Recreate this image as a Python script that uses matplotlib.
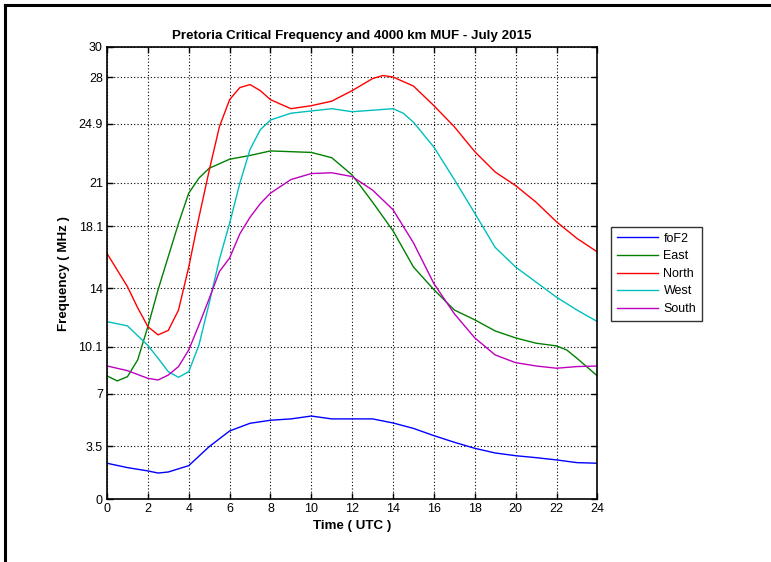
import matplotlib
matplotlib.use('Agg')
import matplotlib.pyplot as plt
from matplotlib.lines import Line2D

plt.rcParams['font.family'] = ['Liberation Sans', 'DejaVu Sans']
plt.rcParams['figure.dpi'] = 100

# data (hours UTC, MHz)
t_fof2 = [0, 1, 2, 2.5, 3, 4, 5, 6, 7, 8, 9, 10, 11, 12, 13, 14, 15, 16, 17, 18, 19, 20, 21, 22, 23, 24]
fof2 = [2.39, 2.10, 1.88, 1.74, 1.81, 2.23, 3.49, 4.53, 5.04, 5.24, 5.33, 5.52, 5.33, 5.33, 5.33,
        5.06, 4.70, 4.22, 3.78, 3.38, 3.07, 2.89, 2.76, 2.61, 2.43, 2.39]

t_east = [0, 0.5, 1, 1.5, 2, 2.5, 3, 3.5, 4, 4.5, 5, 6, 7, 8, 9, 10, 11, 12, 13, 14, 15, 16, 17, 18,
          19, 20, 21, 22, 22.5, 23, 24]
east = [8.18, 7.85, 8.13, 9.24, 11.45, 13.9, 16.1, 18.3, 20.3, 21.3, 21.95, 22.55, 22.8, 23.1, 23.05,
        23.0, 22.65, 21.5, 19.7, 17.8, 15.4, 13.9, 12.55, 11.9, 11.16, 10.7, 10.35, 10.17, 9.9, 9.35, 8.18]

t_north = [0, 1, 1.5, 2, 2.5, 3, 3.5, 4, 4.5, 5, 5.5, 6, 6.5, 7, 7.5, 8, 9, 10, 11, 12, 13, 13.5, 14,
           15, 16, 17, 18, 19, 20, 21, 22, 23, 24]
north = [16.3, 14.1, 12.7, 11.45, 10.9, 11.2, 12.55, 15.4, 18.7, 21.8, 24.7, 26.5, 27.3, 27.5, 27.1,
         26.5, 25.9, 26.1, 26.4, 27.1, 27.9, 28.1, 28.0, 27.4, 26.1, 24.7, 23.05, 21.7, 20.8, 19.7,
         18.4, 17.3, 16.4]

t_west = [0, 1, 2, 2.5, 3, 3.5, 4, 4.5, 5, 5.5, 6, 6.5, 7, 7.5, 8, 9, 10, 11, 12, 13, 14, 14.5, 15,
          16, 17, 18, 19, 20, 21, 22, 23, 24]
west = [11.78, 11.5, 10.2, 9.35, 8.46, 8.09, 8.46, 10.23, 13.0, 15.9, 18.3, 20.95, 23.2, 24.5, 25.15,
        25.6, 25.75, 25.9, 25.7, 25.8, 25.9, 25.6, 25.0, 23.35, 21.2, 18.97, 16.7, 15.4, 14.4, 13.4,
        12.55, 11.78]

t_south = [0, 1, 2, 2.5, 3, 3.5, 4, 4.5, 5, 5.5, 6, 6.5, 7, 7.5, 8, 9, 10, 11, 12, 13, 14, 15, 16,
           17, 18, 19, 20, 21, 22, 23, 24]
south = [8.84, 8.53, 8.02, 7.91, 8.24, 8.8, 9.9, 11.56, 13.3, 15.1, 16.0, 17.6, 18.7, 19.6, 20.3,
         21.2, 21.6, 21.65, 21.4, 20.5, 19.2, 17.0, 14.3, 12.3, 10.7, 9.57, 9.06, 8.84, 8.69, 8.8, 8.84]

xticks = list(range(0, 25, 2))
yticks = [0, 3.5, 7, 10.1, 14, 18.1, 21, 24.9, 28, 30]
ytick_labels = ['0', '3.5', '7', '10.1', '14', '18.1', '21', '24.9', '28', '30']

fig = plt.figure(figsize=(7.71, 5.62))
ax = fig.add_axes([0.1388, 0.1116, 0.636, 0.805])

ax.plot(t_fof2, fof2, color='#0000ff', lw=1.0, label='foF2')
ax.plot(t_east, east, color='#008000', lw=1.0, label='East')
ax.plot(t_north, north, color='#ff0000', lw=1.0, label='North')
ax.plot(t_west, west, color='#00bfbf', lw=1.0, label='West')
ax.plot(t_south, south, color='#bf00bf', lw=1.0, label='South')

ax.set_xlim(0, 24)
ax.set_ylim(0, 30)
ax.set_xticks(xticks)
ax.set_yticks(yticks)
ax.set_yticklabels(ytick_labels)
ax.tick_params(direction='in', top=True, right=True, labelsize=9, length=4, width=1, pad=3)
ax.grid(True, color='black', linestyle=(0, (1, 2)), linewidth=0.8)
for s in ax.spines.values():
    s.set_linewidth(1.2)

ax.set_title('Pretoria Critical Frequency and 4000 km MUF - July 2015', fontsize=9.6,
             fontweight='bold', pad=6)
ax.set_xlabel('Time ( UTC )', fontsize=9.6, fontweight='bold', labelpad=3)
ax.set_ylabel('Frequency ( MHz )', fontsize=9.6, fontweight='bold', labelpad=6)

leg = fig.legend(loc='upper left', bbox_to_anchor=(611 / 771, 1 - 227 / 562), fontsize=9,
                 frameon=True, fancybox=False, borderaxespad=0, handlelength=3.3,
                 labelspacing=0.45, borderpad=0.45, handletextpad=0.45)
leg.get_frame().set_edgecolor('black')
leg.get_frame().set_linewidth(1.0)

# frame lines along the top and left edge of the picture
fig.add_artist(Line2D([5 / 771, 1], [1 - 5 / 562, 1 - 5 / 562], color='black', lw=2.2,
                      transform=fig.transFigure))
fig.add_artist(Line2D([5 / 771, 5 / 771], [0, 1 - 5 / 562], color='black', lw=2.2,
                      transform=fig.transFigure))

fig.savefig('out.png', dpi=100)
